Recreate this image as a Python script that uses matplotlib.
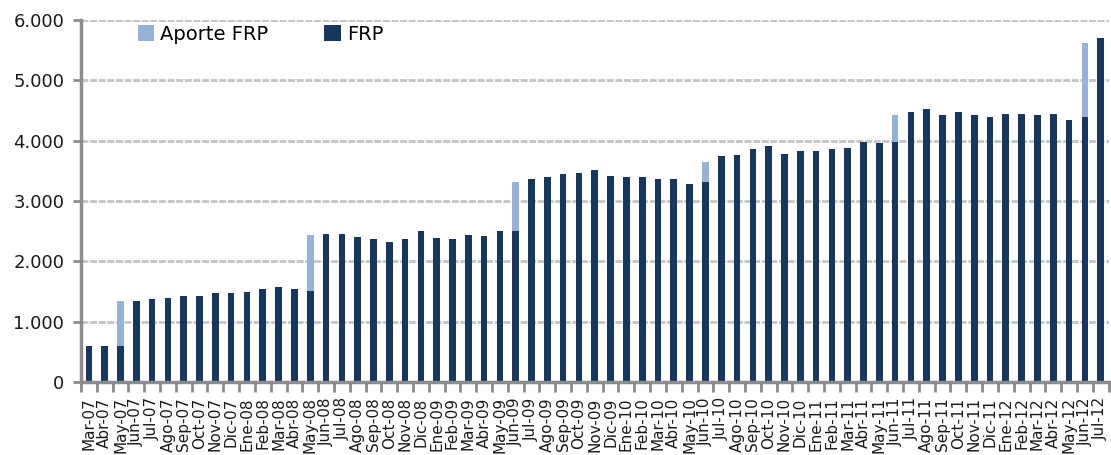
import matplotlib
matplotlib.use("Agg")
import matplotlib.pyplot as plt
import numpy as np
from matplotlib.ticker import FuncFormatter, MultipleLocator

# Meses (Mar-07 a Jul-12)
meses = [
    "Mar-07", "Abr-07", "May-07", "Jun-07", "Jul-07", "Ago-07", "Sep-07", "Oct-07", "Nov-07", "Dic-07",
    "Ene-08", "Feb-08", "Mar-08", "Abr-08", "May-08", "Jun-08", "Jul-08", "Ago-08", "Sep-08", "Oct-08", "Nov-08", "Dic-08",
    "Ene-09", "Feb-09", "Mar-09", "Abr-09", "May-09", "Jun-09", "Jul-09", "Ago-09", "Sep-09", "Oct-09", "Nov-09", "Dic-09",
    "Ene-10", "Feb-10", "Mar-10", "Abr-10", "May-10", "Jun-10", "Jul-10", "Ago-10", "Sep-10", "Oct-10", "Nov-10", "Dic-10",
    "Ene-11", "Feb-11", "Mar-11", "Abr-11", "May-11", "Jun-11", "Jul-11", "Ago-11", "Sep-11", "Oct-11", "Nov-11", "Dic-11",
    "Ene-12", "Feb-12", "Mar-12", "Abr-12", "May-12", "Jun-12", "Jul-12",
]

# Saldo FRP (MM US$)
frp = [
    590, 590, 590, 1340, 1370, 1390, 1420, 1420, 1470, 1470,
    1490, 1540, 1570, 1540, 1510, 2450, 2450, 2400, 2375, 2320, 2370, 2500,
    2390, 2370, 2440, 2420, 2500, 2500, 3360, 3390, 3440, 3470, 3510, 3420,
    3390, 3390, 3360, 3360, 3290, 3310, 3740, 3760, 3860, 3910, 3780, 3830,
    3830, 3860, 3880, 3980, 3960, 3980, 4480, 4530, 4430, 4480, 4430, 4400,
    4450, 4450, 4430, 4450, 4350, 4400, 5700,
]

# Aportes al FRP
aporte = [
    0, 0, 750, 0, 0, 0, 0, 0, 0, 0,
    0, 0, 0, 0, 920, 0, 0, 0, 0, 0, 0, 0,
    0, 0, 0, 0, 0, 810, 0, 0, 0, 0, 0, 0,
    0, 0, 0, 0, 0, 330, 0, 0, 0, 0, 0, 0,
    0, 0, 0, 0, 0, 450, 0, 0, 0, 0, 0, 0,
    0, 0, 0, 0, 0, 1220, 0,
]

OSCURO = "#17375E"
CLARO = "#95B3D7"
GRIS = "#8C8C8C"

fig = plt.figure(figsize=(11.11, 4.55), dpi=100)
ax = fig.add_axes([0.0729, 0.1604, 0.9249, 0.7956])

x = np.arange(len(meses))
ancho = 0.42
ax.bar(x, frp, width=ancho, color=OSCURO, label="FRP", zorder=3)
ax.bar(x, aporte, width=ancho, bottom=frp, color=CLARO, label="Aporte FRP", zorder=3)

ax.set_xlim(-0.5, len(meses) - 0.5)
ax.set_ylim(0, 6000)
ax.yaxis.set_major_locator(MultipleLocator(1000))
ax.yaxis.set_major_formatter(FuncFormatter(lambda v, p: f"{int(v):,}".replace(",", ".")))
ax.grid(True, axis="y", color="#C4C4C4", linewidth=2, linestyle=(0, (2.5, 0.6)), zorder=0)

ax.set_xticks(x)
ax.set_xticklabels(meses, rotation=90, fontsize=11, color="#1A1A1A")
ax.set_xticks(np.arange(-0.5, len(meses), 1), minor=True)
ax.tick_params(axis="x", which="major", length=0, pad=11)
ax.tick_params(axis="x", which="minor", length=7, width=2, color=GRIS, direction="out")
ax.tick_params(axis="y", length=6, width=2, color=GRIS, labelsize=13, labelcolor="#1A1A1A", pad=6)

for lado in ["top", "right"]:
    ax.spines[lado].set_visible(False)
for lado in ["left", "bottom"]:
    ax.spines[lado].set_color(GRIS)
    ax.spines[lado].set_linewidth(2.5)
ax.spines["bottom"].set_zorder(4)

handles, labels = ax.get_legend_handles_labels()
ax.legend(handles[::-1], labels[::-1], loc="upper left", bbox_to_anchor=(0.038, 1.035),
          ncol=2, frameon=False, fontsize=14, handlelength=0.85, handleheight=0.85,
          handletextpad=0.3, columnspacing=2.9)

fig.savefig("out.png", dpi=100)
